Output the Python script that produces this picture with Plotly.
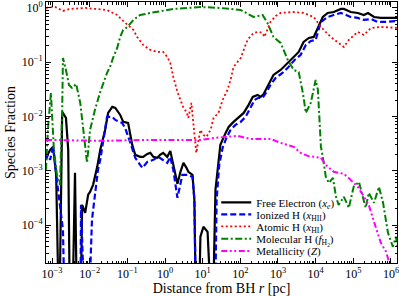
import plotly.graph_objects as go

# ---- data (log10 values) ----
OFF = -6.0  # values below the visible range (dropped to zero)

log_r_e = [-3.16,-3.05,-2.97,-2.89,-2.81,-2.73,-2.63,-2.57,-2.52,-2.47,-2.39,-2.33,-2.25,-2.20,-2.12,-2.04,-1.99,-1.91,-1.80,-1.72,
           -1.59,-1.51,-1.40,-1.32,-1.19,-1.11,-0.98,-0.87,-0.79,-0.66,-0.58,-0.47,-0.39,-0.31,-0.20,-0.13,-0.05,0.06,0.14,0.22,
           0.33,0.41,0.49,0.57,0.62,0.73,0.78,0.83,0.89,0.94,1.02,1.13,1.21,1.26,1.34,1.42,1.47,1.61,1.69,1.82,
           1.95,2.09,2.22,2.33,2.46,2.54,2.62,2.72,2.80,2.88,3.07,3.26,3.42,3.55,3.68,3.82,3.95,4.06,4.19,4.32,
           4.48,4.67,4.75,4.93,5.12,5.28,5.39,5.55,5.73,6.19]
log_xe = [-2.762,-2.615,-2.560,-3.076,OFF,-1.915,-2.026,-2.615,OFF,OFF,-3.039,OFF,OFF,-3.628,-3.775,-3.44,-3.389,-3.260,-2.928,-2.615,
          -2.247,-1.934,-1.823,-1.842,-1.971,-2.099,-2.118,-2.523,-2.707,-2.744,-2.744,-2.689,-2.670,-2.744,-2.762,-2.707,-2.670,-2.744,-2.634,-2.891,
          -3.241,-3.020,-2.855,-2.947,-3.020,-3.076,-3.536,OFF,OFF,-4.217,-4.033,-4.125,OFF,OFF,-3.352,-2.799,-2.523,-2.302,-2.192,-2.099,
          -2.026,-1.934,-1.786,-1.639,-1.602,-1.639,-1.584,-1.455,-1.326,-1.234,-1.142,-1.013,-0.902,-0.810,-0.626,-0.552,-0.534,-0.350,-0.166,-0.092,
          -0.074,-0.018,-0.018,-0.074,-0.092,-0.129,-0.092,-0.166,-0.184,-0.184]

log_r_hii = [-3.16,-3.11,-3.05,-2.97,-2.84,-2.71,-2.65,-2.25,-2.23,-2.12,-2.04,-1.94,-1.86,-1.78,-1.72,-1.62,-1.54,-1.40,-1.32,-1.14,
             -1.06,-0.92,-0.79,-0.66,-0.60,-0.47,-0.31,-0.18,-0.05,0.06,0.14,0.22,0.33,0.46,0.59,0.73,0.78,0.83,1.32,1.37,
             1.44,1.53,1.63,1.74,1.87,2.01,2.14,2.27,2.38,2.48,2.59,2.70,2.80,2.94,3.12,3.28,3.44,3.60,3.74,3.87,
             4.00,4.14,4.32,4.48,4.67,4.81,4.93,5.12,5.28,5.47,5.65,5.87,6.19]
log_xhii = [-2.799,-2.707,-2.799,-2.560,-3.352,-4.088,OFF,OFF,-3.628,OFF,OFF,-3.904,-3.444,-2.983,-2.799,-2.339,-2.007,-2.007,-2.063,-2.118,
            -2.210,-2.486,-2.762,-2.891,-2.947,-2.836,-2.799,-2.744,-2.799,-2.855,-2.744,-2.983,-3.499,-3.076,-3.076,-3.112,-3.536,OFF,OFF,-3.536,
            -2.891,-2.578,-2.394,-2.247,-2.155,-2.099,-2.007,-1.842,-1.694,-1.657,-1.657,-1.547,-1.418,-1.289,-1.197,-1.087,-0.958,-0.866,-0.681,-0.608,
            -0.589,-0.258,-0.166,-0.129,-0.092,-0.129,-0.166,-0.184,-0.221,-0.203,-0.258,-0.258,-0.239]

log_r_hi = [-3.16,-2.92,-2.71,-2.52,-2.12,-1.72,-1.54,-1.38,-1.27,-1.14,-1.00,-0.84,-0.74,-0.58,-0.39,-0.20,-0.05,0.06,0.14,0.22,
            0.33,0.41,0.49,0.57,0.62,0.70,0.75,0.81,0.83,0.89,0.94,1.02,1.10,1.21,1.29,1.42,1.53,1.66,1.74,1.82,
            2.01,2.19,2.35,2.48,2.59,2.64,2.80,2.94,3.07,3.42,3.68,3.95,4.14,4.40,4.59,4.75,4.88,5.12,5.28,5.47,
            5.73,6.19]
log_xhi = [0.0,0.02,-0.055,-0.018,0.0,-0.018,-0.037,-0.092,-0.129,-0.221,-0.313,-0.405,-0.534,-0.681,-0.773,-0.81,-0.81,-0.902,-1.013,-1.271,
           -1.547,-1.694,-1.842,-1.915,-2.026,-1.750,-2.063,-2.431,-2.670,-2.431,-2.247,-2.339,-2.376,-2.247,-2.026,-1.934,-1.694,-1.510,-1.326,-1.087,
           -0.921,-0.589,-0.460,-0.442,-0.460,-0.534,-0.258,-0.147,-0.092,-0.074,-0.092,-0.166,-0.350,-0.534,-0.626,-0.718,-0.589,-0.442,-0.497,-0.368,
           -0.350,-0.368]

log_r_h2 = [-3.16,-3.11,-3.03,-2.95,-2.87,-2.79,-2.73,-2.71,-2.63,-2.55,-2.47,-2.36,-2.25,-2.15,-2.07,-1.99,-1.86,-1.72,-1.64,-1.54,
            -1.46,-1.38,-1.27,-1.19,-1.11,-1.00,-0.84,-0.66,-0.39,-0.13,0.22,0.59,0.94,1.47,2.01,2.35,2.59,2.72,2.88,3.07,
            3.26,3.42,3.55,3.66,3.74,3.87,4.00,4.06,4.14,4.19,4.27,4.35,4.46,4.54,4.61,4.75,4.88,5.01,5.15,5.25,
            5.33,5.41,5.55,5.68,5.79,5.92,6.05,6.13,6.19]
log_fh2 = [-2.983,-2.247,-1.565,-2.615,-3.076,-3.260,-1.878,-0.921,-1.142,-1.418,-1.473,-1.400,-1.750,-2.339,-2.855,-2.247,-1.878,-1.547,-1.381,-1.197,
           -1.087,-0.921,-0.737,-0.534,-0.405,-0.350,-0.221,-0.129,-0.092,-0.055,-0.018,0.0,0.018,0.0,-0.037,-0.166,-0.129,-0.276,-0.534,-0.645,
           -0.958,-1.142,-1.18,-1.565,-1.934,-1.750,-1.326,-1.510,-2.560,-2.744,-3.112,-3.223,-3.131,-3.481,-3.628,-3.481,-3.683,-3.297,-3.204,-3.481,
           -3.683,-3.407,-3.591,-3.297,-3.591,-4.144,-4.401,-4.217,-4.46]

log_r_z = [-3.16,-1.72,-0.39,0.94,1.34,1.92,2.27,2.80,3.07,3.42,3.60,3.79,4.14,4.27,4.48,4.75,4.93,5.12,5.25,5.41,
           5.55,5.73,5.87,5.97,6.05]
log_z = [-2.431,-2.449,-2.431,-2.431,-2.394,-2.357,-2.413,-2.413,-2.486,-2.560,-2.670,-2.726,-2.762,-2.891,-3.020,-3.057,-3.168,-3.297,-3.444,-3.628,
         -3.941,-4.328,-4.494,-4.73,-4.92]

x_tick_exps = [-3, -2, -1, 0, 1, 2, 3, 4, 5, 6]
y_tick_exps = [-4, -3, -2, -1, 0]

def pw(a):
    return [10.0 ** v for v in a]

series = [
    ("Free Electron (<i>x</i><sub><i>e</i></sub>)", log_r_e, log_xe, "#000000", "solid", 2.2),
    ("Ionized H (<i>x</i><sub>HII</sub>)", log_r_hii, log_xhii, "#0000ff", "6px,3px", 2.2),
    ("Atomic H (<i>x</i><sub>HI</sub>)", log_r_hi, log_xhi, "#ff0000", "2px,2.5px", 1.8),
    ("Molecular H (<i>f</i><sub>H<sub>2</sub></sub>)", log_r_h2, log_fh2, "#008000", "7px,2.5px,2px,2.5px", 2.0),
    ("Metallicity (<i>Z</i>)", log_r_z, log_z, "#ff00ff", "6px,2.5px,2px,2.5px,2px,2.5px", 2.0),
]

serif = "Liberation Serif"
legend_ids = ["legend", "legend2", "legend3", "legend4", "legend5"]

fig = go.Figure()
for (name, lr, lv, col, dash, w), lid in zip(series, legend_ids):
    fig.add_trace(go.Scatter(x=pw(lr), y=pw(lv), mode="lines", name=name, legend=lid,
                             line=dict(color=col, dash=dash, width=w)))

def minor_vals(lo, hi):
    return [k * 10.0 ** e for e in range(lo, hi) for k in range(2, 10)]

axis_common = dict(
    type="log", showgrid=False, zeroline=False, showline=True, linecolor="black", linewidth=1,
    mirror="allticks", ticks="inside", ticklen=5, tickwidth=1, tickcolor="black", automargin=False,
    ticklabeloverflow="allow",
    tickfont=dict(family=serif, size=12, color="black"),
)

fig.update_xaxes(
    **axis_common,
    range=[-3.16, 6.16],
    tickvals=[10.0 ** e for e in x_tick_exps],
    ticktext=[f"10<sup>{e}</sup>".replace("-", "−") for e in x_tick_exps],
    minor=dict(ticks="inside", ticklen=2.5, tickcolor="black", tickvals=minor_vals(-4, 7), showgrid=False),
    title=dict(text="Distance from BH <i>r</i> [pc]", font=dict(family=serif, size=14, color="black"), standoff=2),
)
fig.update_yaxes(
    **axis_common,
    range=[-4.70, 0.11],
    tickvals=[10.0 ** e for e in y_tick_exps],
    ticktext=[f"10<sup>{e}</sup>".replace("-", "−") for e in y_tick_exps],
    minor=dict(ticks="inside", ticklen=2.5, tickcolor="black", tickvals=minor_vals(-5, 1), showgrid=False),
    title=dict(text="Species Fraction", font=dict(family=serif, size=14, color="black"), standoff=2),
)

row_centers = [0.232, 0.186, 0.140, 0.093, 0.046]
legend_style = dict(x=0.485, xanchor="left", yanchor="middle", bgcolor="rgba(0,0,0,0)", borderwidth=0,
                    font=dict(family=serif, size=11, color="black"), itemwidth=30)
layout_legends = {lid: dict(y=yc, **legend_style) for lid, yc in zip(legend_ids, row_centers)}

fig.update_layout(
    width=399, height=296,
    margin=dict(l=46, r=2, t=2, b=33, autoexpand=False),
    plot_bgcolor="white", paper_bgcolor="white",
    font=dict(family=serif, color="black"),
    showlegend=True,
    **layout_legends,
)

fig.write_html("out.html", config={"displayModeBar": False},
               post_script="document.body.style.margin='0';document.body.style.overflow='hidden';")
